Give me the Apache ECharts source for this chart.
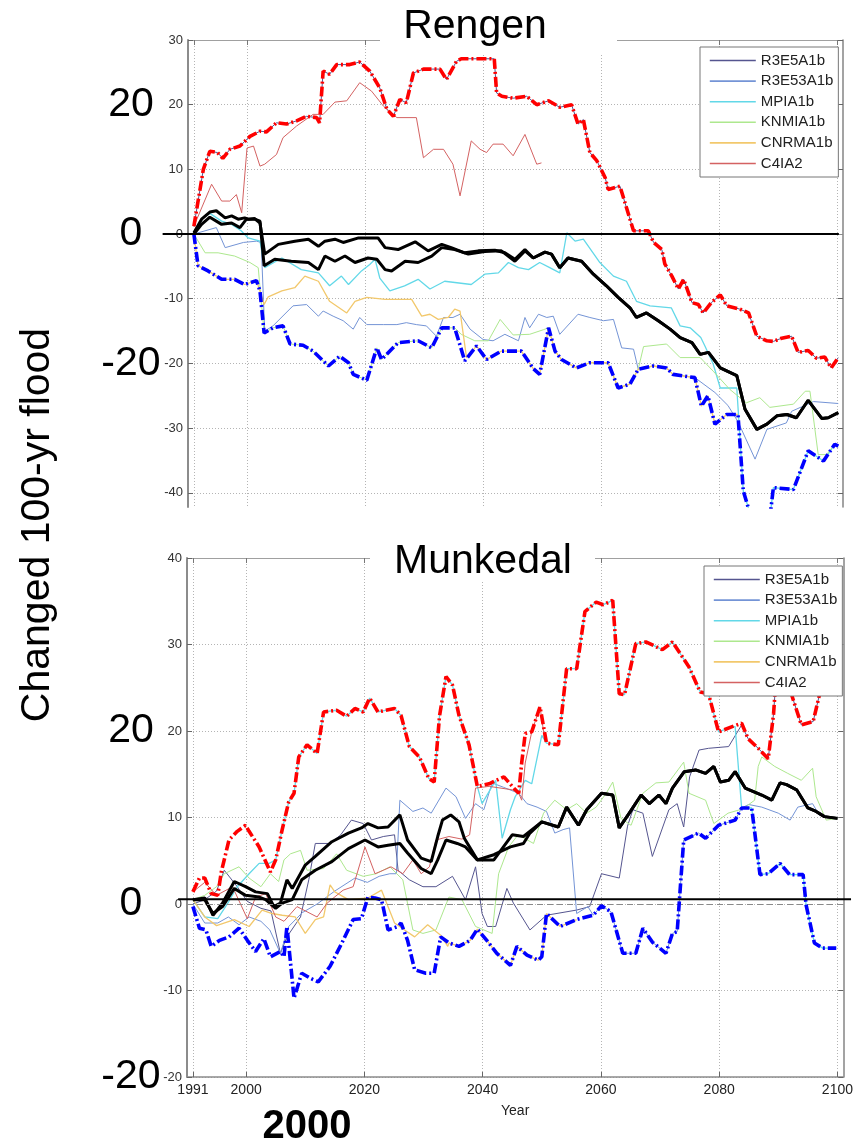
<!DOCTYPE html>
<html>
<head>
<meta charset="utf-8">
<script src="https://cdn.jsdelivr.net/npm/echarts@6/dist/echarts.min.js"></script>
<style>
  html, body { margin: 0; padding: 0; background: #fff; }
  #chart { width: 856px; height: 1145px; }
</style>
</head>
<body>
<div id="chart"></div>
<script>
// Changed 100-year flood (%) for two catchments, 1991-2100, six climate runs
// plus the ensemble envelope (max / min) and two central curves.

const FONT = '"Liberation Sans", Arial, Helvetica, sans-serif';

const xTicks = [1991, 2000, 2020, 2040, 2060, 2080, 2100];
const yTicksTop = [-40, -30, -20, -10, 0, 10, 20, 30];
const yTicksBottom = [-20, -10, 0, 10, 20, 30, 40];
const bigTicks = [-20, 0, 20];

const modelNames = ['R3E5A1b', 'R3E53A1b', 'MPIA1b', 'KNMIA1b', 'CNRMA1b', 'C4IA2'];
const modelColors = ['#55558f', '#7494d6', '#62d8e8', '#ade88e', '#f2c86c', '#d46262'];
const modelWidths = [1, 1, 1.3, 1, 1.3, 1];

// ---------- Rengen ----------
const maxTop = [[1991,1.2],[1992.6,10],[1993.7,12.8],[1995,12.6],[1995.9,11.7],[1997.1,13.1],[1998.8,13.6],[2000.5,15.1],[2002.2,15.9],[2003.3,15.8],[2005,17.2],[2006.7,17],[2008.4,17.5],[2010.1,18.2],[2011.8,18],[2012.3,17.2],[2012.9,25.2],[2014,24.7],[2015.2,26.2],[2017.4,26.2],[2019.1,26.6],[2020.8,25.2],[2022.5,22.6],[2023.7,19.3],[2024.8,18.2],[2025.9,20.8],[2027,20.3],[2028.2,24.9],[2029.9,25.5],[2032.7,25.5],[2033.8,23.9],[2035.5,26.7],[2036.3,27.1],[2041.9,27.1],[2042.3,21.8],[2043.2,21.3],[2045.1,21],[2047.4,21.3],[2049.1,20],[2051.1,20.6],[2053,19.6],[2055,20],[2056.1,17],[2057,17.7],[2058.1,12.6],[2059.3,11.3],[2060.7,8.7],[2061.2,6.9],[2063.2,7.4],[2064.3,4.1],[2065.5,0.5],[2068,0.5],[2068.9,-1.3],[2070.3,-2.4],[2070.8,-4.6],[2072,-6.5],[2073.1,-8.5],[2074,-7],[2075.4,-10.6],[2076.5,-10.9],[2077.3,-12.2],[2078.7,-10.6],[2080.2,-9.4],[2081.3,-11.1],[2083.5,-11.6],[2085,-12.2],[2086.4,-15.8],[2088.1,-16.5],[2089.2,-16.6],[2090.6,-16.1],[2092.3,-15.8],[2093.4,-18.3],[2095.1,-18],[2096.5,-19.2],[2097.9,-19],[2099,-20.7],[2100.2,-19.1]];

const minTop = [[1991,0],[1991.7,-4.9],[1993.4,-5.7],[1995.7,-7],[1997.9,-7],[1999.6,-7.8],[2001.6,-7.2],[2002.2,-8.8],[2002.9,-15.3],[2004.4,-14.5],[2006.1,-14.2],[2007.3,-17],[2009.5,-17.2],[2011.2,-18.1],[2013.8,-20.4],[2015.7,-18.9],[2017.2,-19.9],[2018,-21.7],[2020.3,-22.6],[2022,-17.6],[2022.8,-19.4],[2025.6,-16.8],[2029,-16.5],[2031.3,-17.6],[2033,-14.5],[2035.2,-14.5],[2036.9,-19.6],[2038.9,-17.3],[2040.6,-19.4],[2043.1,-18.1],[2046.5,-18.1],[2048.5,-20.8],[2049.6,-21.7],[2051.1,-14.5],[2052.2,-18.1],[2053.3,-19.4],[2055.8,-20.7],[2058.1,-19.9],[2061.2,-19.9],[2062.9,-23.8],[2064.9,-23.2],[2066.3,-20.9],[2068.8,-20.4],[2071.1,-20.7],[2072.2,-21.7],[2075.9,-22.2],[2077,-26.6],[2078.1,-25],[2079.3,-29.4],[2081.3,-27.9],[2083.2,-27.9],[2084.1,-39.7],[2085.5,-44],[2087,-47],[2088.6,-44],[2089.2,-39.2],[2092.6,-39.5],[2095.1,-33.5],[2097.7,-35.1],[2099.6,-32.5],[2100.2,-32.8]];

const centralTopA = [[1991,0.2],[1992.3,2.3],[1993.7,3.4],[1994.8,3.6],[1996.3,2.5],[1997.4,2.8],[1998.5,2.3],[1999.6,2.5],[2000.2,2.3],[2001.3,2.4],[2002.2,1.7],[2003,-3.1],[2005.3,-1.6],[2008.1,-1.1],[2010.4,-0.8],[2012.1,-1.9],[2013.2,-1.1],[2014.9,-0.8],[2016.3,-1.3],[2018.9,-0.6],[2022.2,-0.6],[2023.4,-2.1],[2025.6,-2.4],[2028.5,-1.2],[2030.7,-2.6],[2033,-1.6],[2034.6,-2.1],[2036.9,-2.9],[2039.2,-2.6],[2042,-2.5],[2043.7,-2.9],[2045.4,-3.9],[2047.1,-2.4],[2048.5,-3.7],[2050.5,-2.8],[2051.6,-3.1],[2053,-5.2],[2054.4,-3.7],[2056.7,-4.2],[2058.7,-6.2],[2060.9,-8],[2062.9,-9.8],[2064.9,-11.4],[2066,-12.9],[2067.7,-12.2],[2069.7,-13.4],[2071.7,-14.7],[2073.4,-16],[2075.4,-16.8],[2076.8,-18.6],[2078.2,-18.3],[2080.2,-20.7],[2083,-21.9],[2084.4,-27.1],[2086.4,-30.2],[2088.1,-29.4],[2089.8,-28.1],[2091.5,-27.9],[2093.1,-28.4],[2095.1,-25.7],[2097.4,-28.5],[2098.5,-28.4],[2100.2,-27.6]];

const centralTopBHead = [[1991,0],[1992.3,1.5],[1993.7,2.6],[1995.7,1.5],[1997.4,1.7],[1998.8,1],[1999.9,2.3],[2001.3,2.3],[2002.2,2],[2002.9,-4.9],[2004.7,-3.9],[2007.5,-4.2],[2010.4,-4.4],[2012.1,-5.5],[2013.2,-3.4],[2014.9,-4.2],[2016.6,-3.4],[2018.3,-4.4],[2020.5,-3.7],[2022,-3.9],[2023.4,-5.5],[2024.5,-5.7],[2026.8,-4.2],[2029,-4.4],[2031.3,-3.4],[2033,-2.1],[2035.2,-2.4],[2037.5,-3.1],[2040.3,-2.7],[2043.1,-2.6],[2045.4,-4.2],[2047.1,-2.6]];

const c4Top = [[1991,1.2],[1994,7.7],[1995.7,5.1],[1997.1,5.1],[1998.2,6.1],[1999.1,3.3],[2000,13.3],[2001.1,13.6],[2002.2,10.5],[2003,10.8],[2005,12.3],[2006.1,14.9],[2008.4,16.7],[2011.2,18.5],[2012.9,18.5],[2014.9,20.4],[2016.9,20.6],[2019.1,23.4],[2021.1,22.1],[2023.1,19.8],[2025.4,18],[2028.7,18],[2029.9,11.8],[2031.6,13.1],[2033.3,13.1],[2034.9,10.8],[2036.1,5.9],[2038,14.4],[2039.5,13.1],[2040.6,12.6],[2041.7,13.9],[2043.4,13.9],[2045.1,12.1],[2047.1,15.4],[2049.1,10.8],[2049.9,11]];

const mpiaTopOwn = [[1991,0],[1992.5,2.5],[1993.7,3.2],[1995.7,2],[1997.4,1.5],[1999,0.5],[2000.2,-0.6],[2002.2,-1.1],[2003,-5.2],[2005.9,-3.7],[2009.2,-5.5],[2012.1,-6],[2014,-8],[2016,-6.5],[2017.2,-7.8],[2019.4,-5.7],[2020.8,-4.7],[2021.7,-3.9],[2022.5,-6.8],[2024.2,-8.8],[2026.7,-8],[2029,-7],[2031,-8.5],[2033.5,-7.3],[2038,-7.8],[2040.3,-6.2],[2042.6,-6],[2044.3,-4.4],[2046,-5.2],[2047.7,-5.5],[2049.6,-4.4],[2051.3,-5.2],[2053,-6],[2054.2,0.2],[2055.6,-1.1],[2057,-0.8],[2059.8,-4.4],[2062.1,-6.5],[2064.3,-7.3],[2066,-10.4],[2068.3,-11.1],[2071.9,-11.4],[2073.4,-14.2],[2075.1,-14.5],[2076.9,-16],[2077.6,-17.3],[2079,-20.1],[2080.2,-23.8],[2083,-23.8],[2084.1,-39.7]];

const r3e53Top = [[1991,0],[1994.8,1],[1996.3,-2.1],[1999.4,-1.3],[2001.6,-1.1],[2002.4,-1.3],[2003,-15],[2004.4,-14.2],[2007.8,-11.1],[2010.1,-10.9],[2012.1,-12.7],[2012.9,-11.9],[2014.6,-12.7],[2016.3,-13.4],[2018,-14.7],[2019.1,-12.9],[2020.3,-14],[2023.1,-14],[2025.4,-14],[2027,-13.7],[2028.7,-14],[2030.4,-14.2],[2032.1,-15.8],[2033.3,-12.9],[2034.9,-12.9],[2036.1,-12.4],[2037.8,-14.7],[2040,-16.3],[2041.7,-16.5],[2043.7,-15.5],[2046,-16.5],[2047.1,-12.9],[2047.9,-14.5],[2049.4,-12.4],[2050.8,-12.9],[2051.9,-12.7],[2053,-15.5],[2056.1,-12.4],[2058.1,-12.9],[2060.4,-13.4],[2062.1,-13.2],[2063.5,-17.6],[2065.5,-17.8],[2066.3,-20.9],[2068.8,-20.4],[2071.1,-20.7],[2072.2,-21.7],[2075.9,-22.2],[2079.3,-24.5],[2081.5,-26.5],[2083.2,-29],[2086.1,-34.8],[2088.1,-30.2],[2091.4,-29.2],[2092.3,-27.4],[2096,-25.9],[2100.2,-26.2]];

const knmiTopA = [[1991,0],[1992.9,-2.9],[1995.1,-2.9],[1997.9,-3.4],[2000.5,-4.4],[2001.9,-5.2]];
const knmiTopB = [[2036.3,-15.5],[2038.6,-16.5],[2040.9,-16.5],[2042.9,-13.2],[2045.1,-15.6],[2047.9,-15.5],[2050.2,-14.8]];
const knmiTopC = [[2067.2,-17.4],[2071.1,-17],[2073.4,-19.1],[2076.8,-19.1],[2079,-21.2],[2081.8,-24],[2084.6,-26.1],[2086.9,-25.3],[2088.6,-26.8],[2092.6,-26.3],[2094.6,-24.3],[2095.4,-24.3],[2096.8,-34.1],[2098.2,-34.1],[2099.6,-32.5],[2100.2,-33]];

const cnrmTopOwn = [[2002.9,-10.9],[2003.6,-9.7],[2005.9,-8.8],[2008.1,-8.3],[2009.8,-6.5],[2012.1,-7.3],[2014,-10.4],[2016.9,-12.2],[2018.3,-10.4],[2020.3,-9.8],[2023.4,-10.1],[2027.9,-10.1],[2029.6,-12.7],[2031,-12.4],[2032.4,-13.2],[2034.1,-12.9],[2035.2,-11.6],[2036.1,-11.9],[2037.2,-19.1]];

// ---------- Munkedal ----------
const maxBottom = [[1991,1.4],[1992.1,3],[1993,3],[1994.1,1.2],[1995.2,1],[1995.8,3.7],[1997.1,7.4],[1998.5,8.4],[1999.9,9.1],[2000.5,8.4],[2002.2,6.6],[2004.1,3.7],[2005,5.1],[2006.1,8.6],[2007.2,11.8],[2008.1,12.8],[2008.9,17],[2010.3,18.4],[2012,17.4],[2013.1,22.2],[2015.3,22.4],[2017,21.7],[2018.4,22.6],[2019.8,22.2],[2020.9,23.8],[2022.3,22.2],[2025.1,22.6],[2026.2,21.8],[2027.6,18.2],[2029.3,17],[2030.9,14.5],[2031.8,14.1],[2032.7,21.7],[2033.8,26.3],[2034.9,25.3],[2036,21.8],[2037.7,18.4],[2039.1,13.6],[2041.1,13.9],[2043.6,14.7],[2045,13.6],[2046.1,12.8],[2046.6,16.3],[2047.2,19.7],[2048.3,19.9],[2049.7,22.8],[2050.8,18.6],[2052.8,18.4],[2054.2,27.2],[2055.9,27.2],[2057.3,33.8],[2059.2,34.9],[2060.4,34.6],[2062,35.1],[2063.1,24.3],[2064,24.2],[2065.9,30.1],[2067.6,30.3],[2070.4,29.4],[2072.1,30.3],[2074.9,27.4],[2076.8,24.5],[2078.2,24.3],[2079.9,19.9],[2082.2,20.5],[2083.8,20.9],[2084.9,19.1],[2086.6,18],[2088.3,16.8],[2089.2,22],[2090,30],[2091.5,30],[2092.2,24.3],[2093.9,20.7],[2095.9,21.1],[2097,24.3],[2098.5,30],[2100,33]];

const minBottom = [[1991,-0.3],[1992.1,-2.8],[1993.2,-3],[1994.1,-4.9],[1995.5,-4.2],[1997.1,-3.8],[1998.8,-2.8],[2000.2,-4.2],[2001.6,-5.5],[2003,-4],[2004.1,-6.1],[2005.8,-5.5],[2006.4,-6.1],[2006.9,-2.6],[2008.1,-10.9],[2009.4,-8],[2010.9,-8.6],[2012.2,-9],[2014.2,-7.2],[2016.2,-4.5],[2018.1,-1.8],[2019.5,-1.7],[2020.6,0.8],[2021.8,0.7],[2022.9,0.5],[2024,-3],[2025.7,-2.6],[2026.2,-2.2],[2027.3,-4.2],[2028.5,-7.6],[2030.4,-8],[2031.8,-8],[2032.9,-3.8],[2034.3,-4.5],[2036,-4.9],[2037.9,-4.2],[2039.1,-2.9],[2040.8,-4.3],[2042.4,-5.7],[2044.7,-7.1],[2045.8,-4.9],[2047.5,-5.9],[2049.4,-6.5],[2050,-6.1],[2050.8,-1.1],[2053.1,-2.6],[2055.9,-1.8],[2058.7,-1.3],[2060.1,-0.2],[2061.7,-0.9],[2063.7,-5.7],[2065.9,-5.7],[2067.1,-2.8],[2068.7,-4.4],[2071,-5.7],[2072.1,-3.4],[2072.9,-3.2],[2074,7.4],[2076.5,8.2],[2077.7,7.6],[2079.9,9.1],[2082.7,9.7],[2083.8,11.1],[2085.5,11.1],[2086.9,3.4],[2088.3,3.5],[2090.3,4.7],[2091.9,3.4],[2094.2,3.4],[2094.7,-0.1],[2096.1,-4.5],[2097.5,-5.1],[2099.8,-5.1]];

const centralBottomA = [[1991,0.5],[1993,0.7],[1994.4,-1.3],[1996,0.1],[1998,2.6],[1999.9,2],[2001.6,1.4],[2003.6,1.2],[2004.7,-0.3],[2005.8,0.1],[2006.9,2.8],[2007.8,1.8],[2010,4.5],[2011.7,5.5],[2014.5,7.2],[2017.3,8.2],[2019.5,8.8],[2020.6,9.3],[2022.3,8.8],[2024,8.9],[2026,10.3],[2027.3,7.4],[2029.6,5.3],[2031.3,4.9],[2032.4,7.8],[2033.2,9.7],[2034.6,10.3],[2036,9.5],[2036.9,7.6],[2039.1,5.1],[2041.9,5.1],[2045,8],[2046.9,7.8],[2050,9.5],[2052.8,8.9],[2054.2,11.2],[2056.2,9.1],[2057.6,10.9],[2060.1,12.8],[2062,12.6],[2063.1,8.8],[2064.8,10.5],[2066.8,12.6],[2068.2,11.6],[2069.8,12.6],[2071,11.6],[2072.1,13.4],[2074.1,15.3],[2076,15.5],[2077.7,15.1],[2079.1,15.9],[2080.2,14.1],[2081.6,14.3],[2082.7,15.3],[2084.4,13.4],[2087.2,12.6],[2088.9,12],[2090.3,14],[2091.4,13.8],[2093.1,13.2],[2095,11.1],[2096.4,10.7],[2097.8,10.1],[2100,9.9]];

const centralBottomBHead = [[1991,0.5],[1993,0.5],[1994.4,-1.1],[1996,-0.3],[1998,1.8],[1999.9,1],[2002.2,0.8],[2003.3,0.5],[2005,-0.5],[2006.1,0.1],[2007.8,0.5],[2009.4,2.8],[2011.7,3.9],[2014.5,4.9],[2017.3,6.4],[2020.1,7.4],[2022.3,6.6],[2024,6.8],[2026,7],[2027.3,5.9],[2029.6,4.1],[2031.3,3.5],[2032.4,5.1],[2033.8,7.4],[2035.7,7],[2037.1,6.6],[2039.1,5.1],[2041.9,5.7],[2044.7,6.6],[2046.9,7],[2048,8.2]];

const c4Bottom = [[1991,1.4],[1993,2.5],[1995,1],[1997.7,2],[2000.2,-1.7],[2001.6,0.8],[2003.3,1.2],[2005,-1.5],[2006.4,-2],[2008.6,-0.3],[2012,-1.5],[2013.7,0.1],[2016.4,1.6],[2018.1,2],[2020.1,6.6],[2021.8,3.5],[2023.2,3.9],[2024.5,4.3],[2026.5,3.5],[2028.2,5.1],[2029.6,3.5],[2031,4.3],[2032.1,7.4],[2034.3,7.8],[2036.5,7.5],[2037.8,8],[2038.8,13.4],[2041.1,13.6],[2045,13.2],[2046.1,12.8],[2046.6,12],[2047.2,16.3],[2048.3,19.9],[2049.7,22.8],[2050.5,19]];

const mpiaBottomA = [[1991,0.5],[1993,-1.5],[1995.2,-1.7],[1996.9,0.1],[1998.5,2],[2000.5,3.5],[2002.2,4.7],[2003.9,4.7]];
const mpiaBottomB = [[2039.9,11.6],[2042.2,14.3],[2043.3,7.6],[2044.7,10.9],[2045.5,12.4],[2047.2,14.3],[2048.3,13.9],[2050,19.5],[2050.8,18.6]];
const mpiaBottomC = [[2082.7,20.5],[2083.8,11.1]];

const r3e53BottomA = [[1991,0],[1993,-2.2],[1995.2,-2.2],[1997,-1.5],[1998.8,-2.4],[2000.5,-1.5],[2002.5,-2],[2004,-3],[2005.8,-5.7],[2007.2,-2.6],[2009.5,-1],[2012,0],[2015,1.5],[2018.4,3],[2020.5,2.5],[2022.5,3.2],[2024.3,3.5],[2025.4,3.5],[2026,12],[2028.2,10.7],[2029.9,11.1],[2031.3,10.5],[2033.8,13.4],[2035.5,12.4],[2037.1,9.9],[2038.8,11.6],[2040.2,10.9],[2041.6,14],[2043.5,13.5],[2046.1,12.8],[2047.5,11.6],[2049.2,11.2],[2050.8,10.7],[2052.2,8.2],[2053.6,8.6],[2054.7,8.8],[2055.9,-1.1],[2057.8,-0.3],[2058.7,-1.3]];
const r3e53BottomB = [[2085,11.5],[2087.2,11.2],[2090,10.5],[2092,9.7],[2093.3,11.2],[2095.8,11.6],[2096.9,10.3],[2100,9.9]];

const r3e5BottomA = [[1991,0],[1993,0.5],[1995,1.5],[1996.3,3.9],[1998.5,2],[2000.2,0.3],[2002.5,-0.5],[2004.2,-0.8],[2005.8,-5.7],[2006.9,-3.8],[2009.2,-1.5],[2010.6,2.8],[2011.7,7],[2014.2,7],[2016,8],[2017.8,9.7],[2019.8,9.3],[2021.2,7.4],[2023.2,7.8],[2025.1,8],[2025.7,3.9],[2027.6,2.8],[2029.9,2],[2032.1,2],[2034.9,3.2],[2037.1,0.5],[2038.8,4.3],[2039.9,-1.1],[2040.8,-2.6],[2042.2,-2.6],[2044.1,1.8],[2045.2,0.1],[2048,-3],[2050.8,-1.3],[2055.9,-0.7],[2058.1,-0.3],[2060.1,3.5],[2063.1,3],[2064.5,9],[2065.4,10.9],[2067.1,10.5],[2068.7,5.5],[2071.5,10.9],[2072.9,11.6],[2074,8.9],[2075,14.7],[2076.6,17.8],[2078.2,18],[2081.6,18.2],[2083.8,20.7]];

const knmiBottom = [[1991,0.5],[1993,1],[1995,2],[1996.3,3.5],[1998.8,4.3],[2000.5,3],[2002.5,2],[2004.1,3.5],[2005.5,2.6],[2006.4,5.1],[2007.5,5.8],[2009.2,6.2],[2010.3,3.9],[2013.1,4.1],[2015.3,5.8],[2017,3.9],[2019.8,3.2],[2022,3.5],[2024.3,4.3],[2026.5,2.8],[2028.2,-3],[2029.9,-3.4],[2032.1,-3],[2034.3,0.8],[2036.5,0.5],[2038.8,-2.6],[2041.6,-3.4],[2042.7,3.5],[2044.4,6.6],[2046,8],[2048.6,7],[2050.3,10.5],[2052.2,12],[2054.2,10.9],[2055.9,11.6],[2057.6,10.5],[2059.2,11.2],[2060.9,12.8],[2062,14.1],[2063.4,9.9],[2065.1,9.1],[2067.1,12.8],[2069.3,14],[2071.5,14.1],[2074,16.4],[2074.9,12.8],[2077.7,12],[2079.1,9.3],[2081.5,10.5],[2084,11],[2086,12],[2086.6,15.9],[2087.2,17],[2089.4,15.9],[2091.6,15.1],[2093.9,14.3],[2095.8,15.7],[2096.4,12.4],[2098.1,9.7],[2100,9.9]];

const cnrmBottomA = [[1991,0.5],[1993,-1.5],[1995,-2.5],[1998,-1.8],[2000.5,-2.6],[2002.7,-0.7],[2004.4,-1.1],[2006.1,-1.3],[2008.3,-1.5],[2010,-3.4],[2011.7,-1.8],[2013.1,-1.5],[2014.2,2.2],[2015,1.4],[2017.3,0.5],[2020.6,0.7],[2022.9,1.6],[2025.1,-2.2],[2026.8,-3],[2028.5,-3.8],[2030.7,-2.4],[2032.9,-3.6],[2034.1,-4.9]];

// pick the part of a curve that lies between two years (where runs coincide)
function seg(src, a, b) {
  return src.filter(p => p[0] >= a && p[0] <= b);
}

const topModels = [
  maxTop,
  r3e53Top,
  mpiaTopOwn.concat(seg(minTop, 2084.2, 2101)),
  knmiTopA.concat(seg(minTop, 2002.5, 2035.3), knmiTopB, seg(minTop, 2051, 2066.5), knmiTopC),
  seg(minTop, 1991, 2002.3).concat(cnrmTopOwn, seg(minTop, 2037.5, 2084)),
  c4Top
];
const bottomModels = [
  r3e5BottomA.concat(seg(maxBottom, 2084.5, 2101)),
  r3e53BottomA.concat(seg(minBottom, 2059, 2083.9), r3e53BottomB),
  mpiaBottomA.concat(seg(maxBottom, 2005, 2039.2), mpiaBottomB, seg(maxBottom, 2051, 2082.3), mpiaBottomC, seg(minBottom, 2084, 2101)),
  knmiBottom,
  cnrmBottomA.concat(seg(minBottom, 2034.3, 2058)),
  c4Bottom
];
const centralTopB = centralTopBHead.concat(seg(centralTopA, 2047.5, 2101));
const centralBottomB = centralBottomBHead.concat(seg(centralBottomA, 2049.5, 2101));

// ---------- styling helpers ----------
const gridLine = { show: true, lineStyle: { color: '#b4b4b4', type: [1, 2], width: 1 } };
const frameColor = '#8c8c8c';
const plain = v => String(v);

function xAxes(gridIndex, withLabels) {
  return [
    {
      gridIndex, type: 'value', min: 1990, max: 2101, position: 'bottom',
      axisLine: { show: withLabels, onZero: false, lineStyle: { color: frameColor, width: 1.5 } },
      axisTick: { show: withLabels, inside: true, length: 5, customValues: xTicks, lineStyle: { color: '#666' } },
      axisLabel: { show: withLabels, customValues: xTicks, formatter: plain, fontFamily: FONT, fontSize: 14, color: '#222', margin: 6 },
      splitLine: gridLine,
      name: withLabels ? 'Year' : '', nameLocation: 'middle', nameGap: 27,
      nameTextStyle: { fontFamily: FONT, fontSize: 14, color: '#222' }
    },
    {
      gridIndex, type: 'value', min: 1990, max: 2101, position: 'top',
      axisLine: { onZero: false, lineStyle: { color: '#a0a0a0', width: 1.2 } },
      axisTick: { inside: true, length: 5, customValues: xTicks, lineStyle: { color: '#777' } },
      axisLabel: { show: false }, splitLine: { show: false }
    }
  ];
}

function yAxes(gridIndex, min, max, ticks, bigMargin) {
  return [
    {
      gridIndex, type: 'value', min, max, position: 'left',
      axisLine: { show: true, onZero: false, lineStyle: { color: frameColor, width: 2 } },
      axisTick: { show: true, inside: true, length: 5, customValues: ticks, lineStyle: { color: '#666' } },
      axisLabel: { customValues: ticks, formatter: plain, fontFamily: FONT, fontSize: 13, color: '#333', margin: 5 },
      splitLine: gridLine
    },
    {
      gridIndex, type: 'value', min, max, position: 'right',
      axisLine: { show: true, onZero: false, lineStyle: { color: frameColor, width: 1.6 } },
      axisTick: { show: true, inside: true, length: 5, customValues: ticks, lineStyle: { color: '#666' } },
      axisLabel: { show: false }, splitLine: { show: false }
    },
    {
      gridIndex, type: 'value', min, max, position: 'left',
      axisLine: { show: false, onZero: false }, axisTick: { show: false },
      axisLabel: { customValues: bigTicks, formatter: plain, fontFamily: FONT, fontSize: 41, color: '#000', align: 'center', margin: bigMargin },
      splitLine: { show: false }
    }
  ];
}

function modelSeries(dataList, xIdx, yIdx) {
  return dataList.map((d, i) => ({
    name: modelNames[i], type: 'line', xAxisIndex: xIdx, yAxisIndex: yIdx,
    data: d, symbol: 'none', z: 2, silent: true,
    lineStyle: { color: modelColors[i], width: modelWidths[i] },
    itemStyle: { color: modelColors[i] }
  }));
}

function envelope(name, data, color, xIdx, yIdx) {
  return {
    name, type: 'line', xAxisIndex: xIdx, yAxisIndex: yIdx, data, symbol: 'none', z: 5, silent: true,
    lineStyle: { color, width: 3.6, type: [10, 3, 2, 3], cap: 'butt' }
  };
}

function central(name, data, xIdx, yIdx) {
  return {
    name, type: 'line', xAxisIndex: xIdx, yAxisIndex: yIdx, data, symbol: 'none', z: 4, silent: true,
    lineStyle: { color: '#000', width: 3 }
  };
}

function zeroDashed(xIdx, yIdx) {
  return {
    name: 'zero', type: 'line', xAxisIndex: xIdx, yAxisIndex: yIdx, data: [], z: 1, silent: true,
    markLine: {
      silent: true, symbol: 'none', label: { show: false },
      lineStyle: { color: '#8a8a8a', type: [6, 4], width: 1 },
      data: [{ yAxis: 0 }]
    }
  };
}

function legendBox(left, top) {
  return {
    data: modelNames, left, top, orient: 'vertical', selectedMode: false,
    itemWidth: 46, itemHeight: 14, itemGap: 5.6, padding: [6, 5, 6, 9],
    backgroundColor: '#fff', borderColor: '#777', borderWidth: 1, z: 10,
    itemStyle: { opacity: 0 }, lineStyle: { width: 1.6 },
    textStyle: { fontFamily: FONT, fontSize: 15, color: '#222' }
  };
}

const chart = echarts.init(document.getElementById('chart'), null, { renderer: 'canvas' });

const option = {
  animation: false,
  backgroundColor: '#fff',
  textStyle: { fontFamily: FONT },
  grid: [
    { left: 188, top: 40, width: 655, height: 467 },
    { left: 187, top: 558, width: 662, height: 519 }
  ],
  xAxis: xAxes(0, false).concat(xAxes(1, true)),
  yAxis: yAxes(0, -42.2, 30, yTicksTop, 57).concat(yAxes(1, -20, 40, yTicksBottom, 56)),
  legend: [legendBox(700, 47), legendBox(704, 566)],
  series: [].concat(
    [zeroDashed(0, 0)],
    modelSeries(topModels, 0, 0),
    [central('Central A', centralTopA, 0, 0), central('Central B', centralTopB, 0, 0),
     envelope('Ensemble max', maxTop, '#ff0000', 0, 0), envelope('Ensemble min', minTop, '#0000ff', 0, 0)],
    [zeroDashed(2, 3)],
    modelSeries(bottomModels, 2, 3),
    [central('Central A', centralBottomA, 2, 3), central('Central B', centralBottomB, 2, 3),
     envelope('Ensemble max', maxBottom, '#ff0000', 2, 3), envelope('Ensemble min', minBottom, '#0000ff', 2, 3)]
  )
};
chart.setOption(option);

// overlay annotations: reference lines at zero, panel names, axis caption
const yTop0 = chart.convertToPixel({ yAxisIndex: 0 }, 0);
const xTopA = chart.convertToPixel({ xAxisIndex: 0 }, 1985.7);
const xTopB = chart.convertToPixel({ xAxisIndex: 0 }, 2100.3);
const yBot0 = chart.convertToPixel({ yAxisIndex: 3 }, 0.55);
const xBotA = chart.convertToPixel({ xAxisIndex: 2 }, 1988.5);
const xBotB = chart.convertToPixel({ xAxisIndex: 2 }, 2102.3);

chart.setOption({
  graphic: [
    { type: 'line', z: 40, silent: true, shape: { x1: xTopA, y1: yTop0, x2: xTopB, y2: yTop0 }, style: { stroke: '#000', lineWidth: 2 } },
    { type: 'line', z: 40, silent: true, shape: { x1: xBotA, y1: yBot0, x2: xBotB, y2: yBot0 }, style: { stroke: '#000', lineWidth: 2 } },
    { type: 'rect', z: 50, silent: true, shape: { x: 380, y: 0, width: 237, height: 55 }, style: { fill: '#fff' } },
    { type: 'rect', z: 50, silent: true, shape: { x: 370, y: 530, width: 225, height: 52 }, style: { fill: '#fff' } },
    { type: 'text', z: 60, silent: true, x: 475, y: 27, style: { text: 'Rengen', font: '41px ' + FONT, fill: '#000', textAlign: 'center', textVerticalAlign: 'middle' } },
    { type: 'text', z: 60, silent: true, x: 483, y: 562, style: { text: 'Munkedal', font: '41px ' + FONT, fill: '#000', textAlign: 'center', textVerticalAlign: 'middle' } },
    { type: 'text', z: 60, silent: true, x: 38, y: 525, rotation: Math.PI / 2, style: { text: 'Changed 100-yr flood', font: '41px ' + FONT, fill: '#000', textAlign: 'center', textVerticalAlign: 'middle' } },
    { type: 'text', z: 60, silent: true, x: 307, y: 1127, style: { text: '2000', font: 'bold 40px ' + FONT, fill: '#000', textAlign: 'center', textVerticalAlign: 'middle' } }
  ]
});
</script>
</body>
</html>
